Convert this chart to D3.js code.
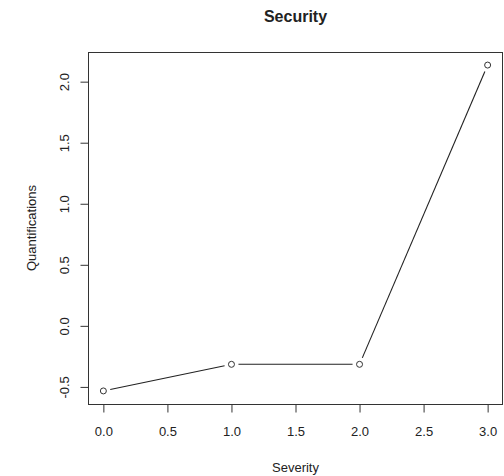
<!DOCTYPE html>
<html>
<head>
<meta charset="utf-8">
<script src="https://cdn.jsdelivr.net/npm/d3@7"></script>
<style>
  body { margin: 0; background: #fff; }
  text { font-family: "Liberation Sans", Arial, sans-serif; fill: #222; }
</style>
</head>
<body>
<svg id="chart"></svg>
<script>
let w = 504;
let h = 476;
let severity = [0, 1, 2, 3];
let quant = [-0.533, -0.315, -0.315, 2.136];
let xTicks = [0, 0.5, 1, 1.5, 2, 2.5, 3];
let yTicks = [-0.5, 0, 0.5, 1, 1.5, 2];

let pLeft = 88, pRight = 503, pTop = 52, pBottom = 404;

let svg = d3.select("#chart").attr("width", w).attr("height", h);

let xScale = d3.scaleLinear().domain([-0.12, 3.12]).range([pLeft, pRight]);
let yScale = d3.scaleLinear().domain([-0.64, 2.243]).range([pBottom, pTop]);

let fmt = (d) => d.toFixed(1);

// plot box
svg.append("rect")
   .attr("x", pLeft + 0.5)
   .attr("y", pTop + 0.5)
   .attr("width", pRight - pLeft - 1)
   .attr("height", pBottom - pTop)
   .attr("fill", "none")
   .attr("stroke", "#333")
   .attr("stroke-width", 1);

let xAxis = d3.axisBottom(xScale)
              .tickValues(xTicks)
              .tickFormat(fmt)
              .tickSize(8)
              .tickPadding(14);

let gx = svg.append("g")
   .attr("transform", `translate(0, ${pBottom + 0.5})`)
   .call(xAxis);
gx.select(".domain").attr("d", `M${xScale(0)},0H${xScale(3)}`).attr("stroke", "#333");
gx.selectAll(".tick line").attr("stroke", "#333");
gx.selectAll("text").attr("font-size", 13).attr("fill", "#222");

let yAxis = d3.axisLeft(yScale)
              .tickValues(yTicks)
              .tickFormat(fmt)
              .tickSize(8);

let gy = svg.append("g")
   .attr("transform", `translate(${pLeft + 0.5}, 0)`)
   .call(yAxis);
gy.select(".domain").attr("d", `M0,${yScale(-0.5)}V${yScale(2)}`).attr("stroke", "#333");
gy.selectAll(".tick line").attr("stroke", "#333");
gy.selectAll("text")
  .attr("font-size", 13)
  .attr("fill", "#222")
  .attr("x", null)
  .attr("dy", null)
  .attr("text-anchor", "middle")
  .attr("transform", "translate(-20,0) rotate(-90)");

// line segments with gaps around points (type = "b")
let pts = severity.map((s, i) => [xScale(s), yScale(quant[i])]);
let gap = 7;
let segs = [];
for (let i = 0; i < pts.length - 1; i++) {
  let [x1, y1] = pts[i], [x2, y2] = pts[i + 1];
  let len = Math.hypot(x2 - x1, y2 - y1);
  let ux = (x2 - x1) / len, uy = (y2 - y1) / len;
  segs.push([x1 + ux * gap, y1 + uy * gap, x2 - ux * gap, y2 - uy * gap]);
}
svg.selectAll("line.seg")
   .data(segs)
   .enter()
   .append("line")
   .attr("class", "seg")
   .attr("x1", d => d[0]).attr("y1", d => d[1])
   .attr("x2", d => d[2]).attr("y2", d => d[3])
   .attr("stroke", "#222")
   .attr("stroke-width", 1.1);

svg.selectAll("circle")
   .data(severity)
   .enter()
   .append("circle")
   .attr("cx", (d) => xScale(d))
   .attr("cy", (d, i) => yScale(quant[i]))
   .attr("r", 3)
   .attr("fill", "none")
   .attr("stroke", "#333")
   .attr("stroke-width", 1);

svg.append("text")
   .attr("x", (pLeft + pRight) / 2)
   .attr("y", 22)
   .attr("text-anchor", "middle")
   .attr("font-size", 16)
   .attr("font-weight", "bold")
   .text("Security");

svg.append("text")
   .attr("x", (pLeft + pRight) / 2)
   .attr("y", 472)
   .attr("text-anchor", "middle")
   .attr("font-size", 13)
   .text("Severity");

svg.append("text")
   .attr("transform", `translate(36, ${(pTop + pBottom) / 2}) rotate(-90)`)
   .attr("text-anchor", "middle")
   .attr("font-size", 13)
   .text("Quantifications");
</script>
</body>
</html>
